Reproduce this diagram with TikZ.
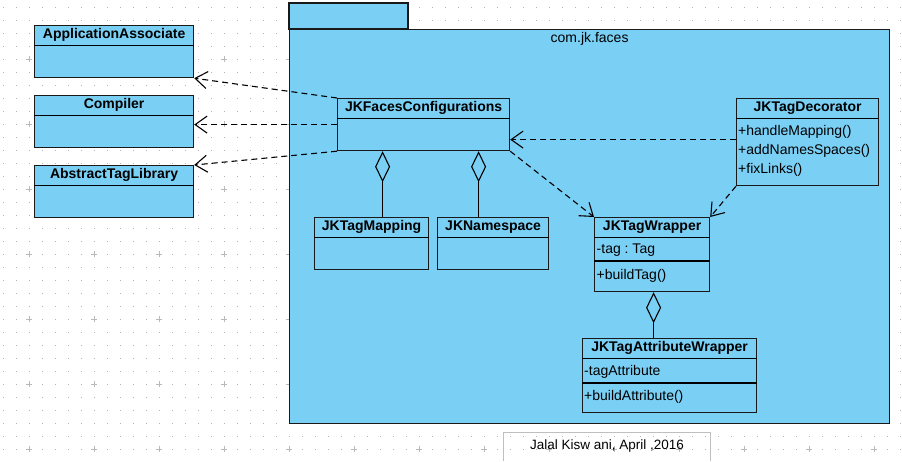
\documentclass[tikz,border=0pt]{standalone}
\usepackage{fontspec}
\setmainfont{Liberation Sans}
\usetikzlibrary{arrows.meta}
\definecolor{vpblue}{RGB}{122,207,245}
\frenchspacing
\tikzset{
	umlbox/.style={draw=black!90,fill=vpblue,line width=1.2pt,inner sep=0pt,anchor=north west},
	cname/.style={font=\fontsize{14}{16}\selectfont\bfseries},
	member/.style={font=\fontsize{14}{16}\selectfont,anchor=west,inner sep=0pt},
	dep/.style={line width=1.1pt,dash pattern=on 6pt off 4pt,-{Straight Barb[length=12pt,width=17pt]}},
	aggr/.style={line width=1.1pt,{Diamond[open,length=31pt,width=15pt]}-},
}
% class box: name, x, y, width, height, title
\newcommand{\umlclass}[6]{%
	\node[umlbox,minimum width=#4pt,minimum height=#5pt] (#1) at (#2,#3) {};
	\node[cname] at ([yshift=-10pt]#1.north) {#6};
	\draw[line width=1.2pt] ([yshift=-20.5pt]#1.north west) -- ([yshift=-20.5pt]#1.north east);
}
\begin{document}
\begin{tikzpicture}[x=1pt,y=-1pt]
			\useasboundingbox (0,0) rectangle (902,461);
			%grid
			\foreach \i in {0,...,69}
				\foreach \j in {0,...,34}
					\fill[gray!60] (2.6+13*\i,6.6+13*\j) rectangle ++(1.4,1.4);
			\foreach \i in {0,...,13}
				\foreach \j in {0,...,6}
					\draw[gray!55,line width=0.9pt] (26.3+65*\i,59.3+65*\j) -- ++(6,0) (29.3+65*\i,56.3+65*\j) -- ++(0,6);
			%package
			\draw[fill=vpblue,draw=black!90,line width=1.1pt] (289,3) rectangle (408,29);
			\node[umlbox,minimum width=600pt,minimum height=394pt] (pkg) at (289,29) {};
			\node[member,anchor=center] at ([yshift=-10pt]pkg.north) {com.jk.faces};
			%outside classes
			\umlclass{appassoc}{34}{25}{159}{52}{ApplicationAssociate}
			\umlclass{compiler}{34}{95}{159}{52}{Compiler}
			\umlclass{abstractlib}{34}{165}{159}{52}{AbstractTagLibrary}
			%classes in package
			\umlclass{jkfc}{337}{98}{172}{52}{JKFacesConfigurations}
			\umlclass{tagmap}{314}{217}{114}{52}{JKTagMapping}
			\umlclass{nspace}{437}{217}{111}{52}{JKNamespace}
			\umlclass{decor}{736}{98}{142}{87}{JKTagDecorator}
			\node[member] at ([xshift=2pt,yshift=-33.5pt]decor.north west) {+handleMapping()};
			\node[member] at ([xshift=2pt,yshift=-53pt]decor.north west) {+addNamesSpaces()};
			\node[member] at ([xshift=2pt,yshift=-72pt]decor.north west) {+fixLinks()};
			\umlclass{wrap}{594}{217}{115}{74}{JKTagWrapper}
			\draw[line width=1.2pt] ([yshift=-44pt]wrap.north west) -- ([yshift=-44pt]wrap.north east);
			\node[member] at ([xshift=2.5pt,yshift=-33.5pt]wrap.north west) {-tag : Tag};
			\node[member] at ([xshift=2.5pt,yshift=-59pt]wrap.north west) {+buildTag()};
			\umlclass{attr}{582}{338}{174}{74}{JKTagAttributeWrapper}
			\draw[line width=1.2pt] ([yshift=-45pt]attr.north west) -- ([yshift=-45pt]attr.north east);
			\node[member] at ([xshift=2pt,yshift=-33.5pt]attr.north west) {-tagAttribute};
			\node[member] at ([xshift=2pt,yshift=-59pt]attr.north west) {+buildAttribute()};
			% dependencies
			\draw[dep] (jkfc.north west) -- (appassoc.south east);
			\draw[dep] (jkfc.west) -- (jkfc.west -| compiler.east);
			\draw[dep] (jkfc.south west) -- (abstractlib.north east);
			\draw[dep] ([yshift=2.5pt]decor.west) -- ([yshift=2.5pt]decor.west -| jkfc.east);
			\draw[dep] (jkfc.south east) -- (wrap.north west);
			\draw[dep] (decor.south west) -- (wrap.north east);
			% aggregations
			\draw[aggr] ([xshift=11pt]tagmap.north |- jkfc.south) -- ([xshift=11pt]tagmap.north);
			\draw[aggr] ([xshift=-14.5pt]nspace.north |- jkfc.south) -- ([xshift=-14.5pt]nspace.north);
			\draw[aggr] ([xshift=1.5pt]wrap.south) -- ([xshift=1.5pt]wrap.south |- attr.north);
			%signature
			\draw[gray!50,line width=1pt] (503,461) -- (503,432) -- (710,432) -- (710,461);
			\node[font=\fontsize{13.5}{16}\selectfont] (sign) at (607,446) {Jalal Kisw ani, April ,2016};
\end{tikzpicture}
\end{document}
